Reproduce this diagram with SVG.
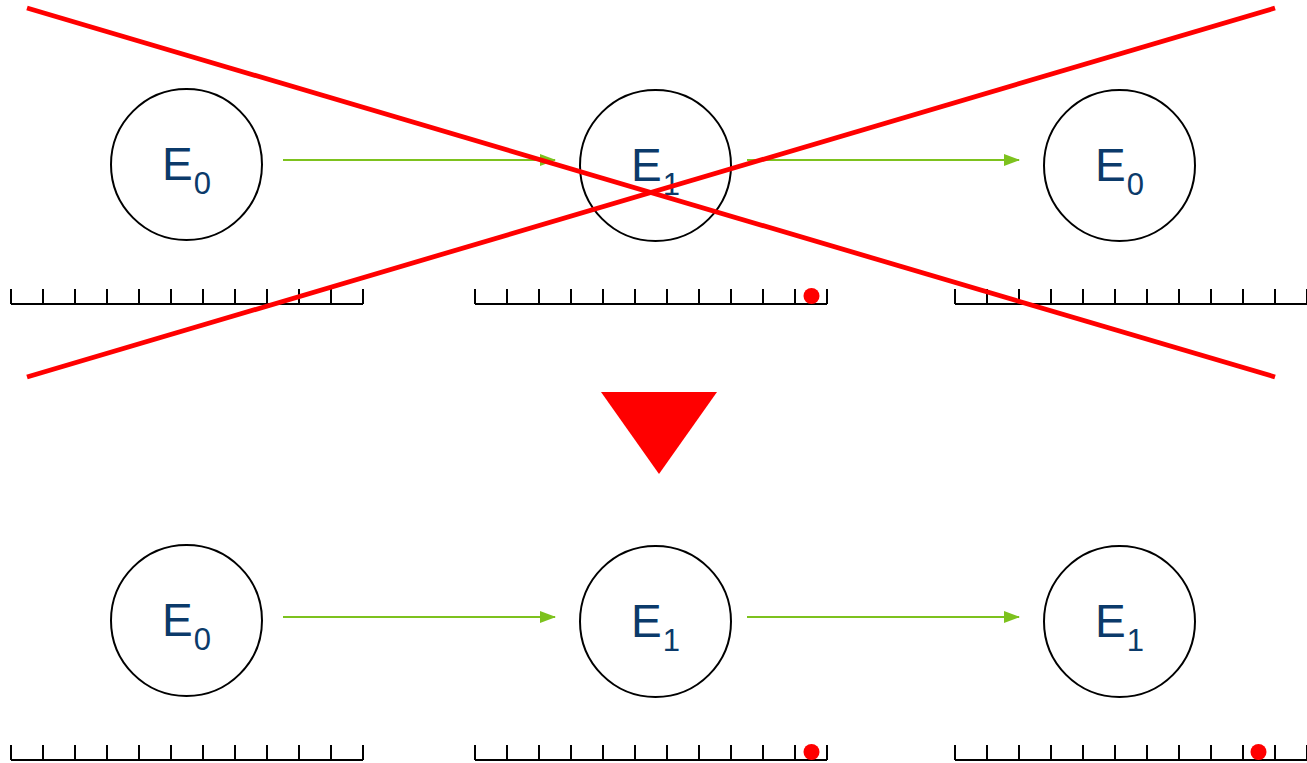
<svg xmlns="http://www.w3.org/2000/svg" width="1307" height="763" viewBox="0 0 1307 763">
<style>
.node{fill:#fff;stroke:#000;stroke-width:2}
.lbl{font-family:"Liberation Sans",Arial,sans-serif;fill:#0b3a6a;font-size:46px}
.sub{font-size:31px}
.conn{stroke:#7dc21e;stroke-width:2;fill:none;marker-end:url(#ah)}
.ruler{stroke:#000;stroke-width:2;fill:none}
.dot{fill:#f00}
.cross{stroke:#f00;stroke-width:4.8;fill:none}
</style>
<defs>
<marker id="ah" markerWidth="16" markerHeight="12" refX="15" refY="6" orient="auto" markerUnits="userSpaceOnUse">
<path d="M0,0 L16,6 L0,12 Z" fill="#7dc21e"/>
</marker>
<path id="rul" d="M0,0 V15 M32,0 V15 M64,0 V15 M96,0 V15 M128,0 V15 M160,0 V15 M192,0 V15 M224,0 V15 M256,0 V15 M288,0 V15 M320,0 V15 M352,0 V15 M0,15 H352"/>
</defs>
<g id="connectors">
<line class="conn" x1="283" y1="160" x2="555" y2="160"/>
<line class="conn" x1="747" y1="160" x2="1019" y2="160"/>
<line class="conn" x1="283" y1="617" x2="555" y2="617"/>
<line class="conn" x1="747" y1="617" x2="1019" y2="617"/>
</g>
<g id="n1"><circle class="node" cx="186.5" cy="164.5" r="75.5"/><text class="lbl" x="162" y="180">E<tspan class="sub" dx="1" dy="14">0</tspan></text></g>
<g id="n2"><circle class="node" cx="655.5" cy="165.5" r="75.5"/><text class="lbl" x="631" y="181">E<tspan class="sub" dx="1" dy="14">1</tspan></text></g>
<g id="n3"><circle class="node" cx="1119.5" cy="165.5" r="75.5"/><text class="lbl" x="1095" y="181">E<tspan class="sub" dx="1" dy="14">0</tspan></text></g>
<g id="n4"><circle class="node" cx="186.5" cy="620.5" r="75.5"/><text class="lbl" x="162" y="636">E<tspan class="sub" dx="1" dy="14">0</tspan></text></g>
<g id="n5"><circle class="node" cx="655.5" cy="621.5" r="75.5"/><text class="lbl" x="631" y="637">E<tspan class="sub" dx="1" dy="14">1</tspan></text></g>
<g id="n6"><circle class="node" cx="1119.5" cy="621.5" r="75.5"/><text class="lbl" x="1095" y="637">E<tspan class="sub" dx="1" dy="14">1</tspan></text></g>
<g id="rulers">
<use href="#rul" class="ruler" x="11" y="289"/>
<use href="#rul" class="ruler" x="475" y="289"/>
<use href="#rul" class="ruler" x="955" y="289"/>
<use href="#rul" class="ruler" x="11" y="745"/>
<use href="#rul" class="ruler" x="475" y="745"/>
<use href="#rul" class="ruler" x="955" y="745"/>
<circle class="dot" cx="811.5" cy="296" r="8"/>
<circle class="dot" cx="811.5" cy="752" r="8"/>
<circle class="dot" cx="1258.5" cy="752" r="8"/>
</g>
<g id="cross">
<line class="cross" x1="27" y1="8" x2="1275" y2="377"/>
<line class="cross" x1="27" y1="377" x2="1275" y2="8"/>
</g>
<polygon points="601,392 717,392 659,474" fill="#f00"/>
</svg>
